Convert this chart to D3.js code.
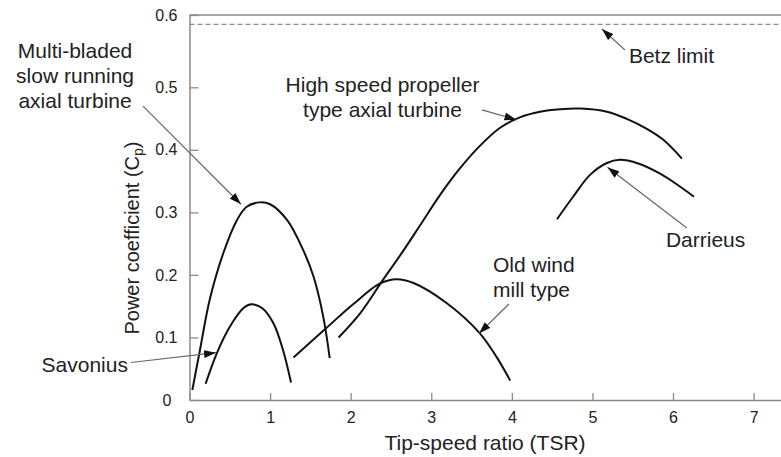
<!DOCTYPE html>
<html>
<head>
<meta charset="utf-8">
<script src="https://cdn.jsdelivr.net/npm/d3@7"></script>
<style>
  body { margin: 0; background: #fff; }
  svg { display: block; font-family: "Liberation Sans", Arial, sans-serif; }
</style>
</head>
<body>
<script>
// values: [TSR, Cp]
const savonius = [[0.20,0.026],[0.34,0.075],[0.50,0.117],[0.67,0.147],[0.77,0.153],[0.90,0.147],[1.04,0.123],[1.16,0.080],[1.26,0.028]];
const multiBladed = [[0.035,0.016],[0.13,0.080],[0.25,0.160],[0.42,0.235],[0.59,0.288],[0.71,0.309],[0.875,0.316],[1.0,0.313],[1.21,0.288],[1.41,0.240],[1.54,0.197],[1.66,0.133],[1.74,0.067]];
const oldWindMill = [[1.29,0.068],[1.68,0.113],[2.03,0.153],[2.36,0.186],[2.57,0.193],[2.78,0.187],[3.19,0.155],[3.60,0.107],[3.81,0.069],[3.98,0.031]];
const propeller = [[1.85,0.100],[2.12,0.139],[2.39,0.190],[2.65,0.238],[2.86,0.279],[3.11,0.328],[3.36,0.371],[3.60,0.406],[3.85,0.435],[4.10,0.452],[4.35,0.461],[4.60,0.465],[4.85,0.466],[5.18,0.461],[5.42,0.450],[5.67,0.434],[5.88,0.416],[6.11,0.386]];
const darrieus = [[4.56,0.289],[4.76,0.325],[4.97,0.360],[5.18,0.379],[5.34,0.384],[5.55,0.379],[5.84,0.362],[6.09,0.341],[6.26,0.325]];
const betzLimit = 0.587;

const xTicks = [0, 1, 2, 3, 4, 5, 6, 7];
const yTicks = [0, 0.1, 0.2, 0.3, 0.4, 0.5, 0.6];

// annotation labels: text lines, text anchor point, arrow tail and tip (data units)
const labels = [
  { lines: ["Multi-bladed", "slow running", "axial turbine"], at: [-1.42, 0.541], anchor: "middle", from: [-0.577, 0.470], to: [0.639, 0.313] },
  { lines: ["High speed propeller", "type axial turbine"], at: [2.395, 0.492], anchor: "middle", from: [3.629, 0.464], to: [4.057, 0.448] },
  { lines: ["Betz limit"], at: [5.453, 0.534], anchor: "start", from: [5.403, 0.5516], to: [5.118, 0.5806] },
  { lines: ["Darrieus"], at: [5.912, 0.244], anchor: "start", from: [6.172, 0.275], to: [5.186, 0.372] },
  { lines: ["Old wind", "mill type"], at: [3.766, 0.204], anchor: "start", from: [3.964, 0.1535], to: [3.592, 0.1063] },
  { lines: ["Savonius"], at: [-0.764, 0.044], anchor: "end", from: [-0.726, 0.060], to: [0.329, 0.0756] }
];

var width = 781, height = 457;

var x = d3.scaleLinear().domain([0, 7.34]).range([189.5, 781]);
var y = d3.scaleLinear().domain([0, 0.5, 0.6]).range([400, 87.3, 15]);

var svg = d3.select("body").append("svg")
  .attr("width", width)
  .attr("height", height);

svg.append("defs").append("marker")
  .attr("id", "arrow")
  .attr("markerUnits", "userSpaceOnUse")
  .attr("viewBox", "0 0 12 8")
  .attr("refX", 12).attr("refY", 4)
  .attr("markerWidth", 12).attr("markerHeight", 8)
  .attr("orient", "auto")
  .append("path")
  .attr("d", "M0,0L12,4L0,8Z")
  .attr("fill", "#111");

// top frame line
svg.append("line")
  .attr("x1", x(0)).attr("x2", x.range()[1])
  .attr("y1", y(0.6)).attr("y2", y(0.6))
  .attr("stroke", "#8a8a8a").attr("stroke-width", 1.5);

// Betz limit
svg.append("line")
  .attr("x1", x(0)).attr("x2", x.range()[1])
  .attr("y1", y(betzLimit)).attr("y2", y(betzLimit))
  .attr("stroke", "#8a8a8a").attr("stroke-width", 1.2)
  .attr("stroke-dasharray", "5,3");

var xAxis = svg.append("g")
  .attr("transform", "translate(0," + y(0) + ")")
  .call(d3.axisBottom(x).tickValues(xTicks).tickFormat(d3.format("d"))
    .tickSize(-7).tickSizeOuter(0).tickPadding(12));

var yAxis = svg.append("g")
  .attr("transform", "translate(" + x(0) + ",0)")
  .call(d3.axisLeft(y).tickValues(yTicks).tickFormat(d => d === 0 ? "0" : d3.format(".1f")(d))
    .tickSize(-9).tickSizeOuter(0).tickPadding(12));

[xAxis, yAxis].forEach(function(g) {
  g.select(".domain").attr("stroke", "#8a8a8a").attr("stroke-width", 1.5);
  g.selectAll(".tick line").attr("stroke", "#8a8a8a").attr("stroke-width", 1.3);
  g.selectAll(".tick text").attr("font-size", 16).attr("fill", "#222")
    .attr("font-family", "Liberation Sans, Arial, sans-serif");
});
yAxis.selectAll(".tick text").filter(d => d === 0).attr("dx", -6);

// axis titles
svg.append("text")
  .attr("x", 485).attr("y", 450)
  .attr("text-anchor", "middle")
  .attr("font-size", 21).attr("fill", "#222")
  .text("Tip-speed ratio (TSR)");

var yTitle = svg.append("text")
  .attr("transform", "translate(139,238) rotate(-90)")
  .attr("text-anchor", "middle")
  .attr("font-size", 20).attr("fill", "#222");
yTitle.append("tspan").text("Power coefficient (C");
yTitle.append("tspan").attr("font-size", 14).attr("dy", 4).text("p");
yTitle.append("tspan").attr("dy", -4).text(")");

// curves
var line = d3.line()
  .x(d => x(d[0]))
  .y(d => y(d[1]))
  .curve(d3.curveCatmullRom.alpha(0.5));

svg.append("g")
  .selectAll("path")
  .data([savonius, multiBladed, oldWindMill, propeller, darrieus])
  .join("path")
  .attr("d", line)
  .attr("fill", "none")
  .attr("stroke", "#111")
  .attr("stroke-width", 2);

// annotations
var ann = svg.append("g").selectAll("g").data(labels).join("g");

ann.append("line")
  .attr("x1", d => x(d.from[0])).attr("y1", d => y(d.from[1]))
  .attr("x2", d => x(d.to[0])).attr("y2", d => y(d.to[1]))
  .attr("stroke", "#666").attr("stroke-width", 1.2)
  .attr("marker-end", "url(#arrow)");

ann.append("text")
  .attr("text-anchor", d => d.anchor)
  .attr("font-size", 21).attr("fill", "#222")
  .each(function(d) {
    var t = d3.select(this);
    d.lines.forEach(function(s, i) {
      t.append("tspan")
        .attr("x", x(d.at[0]))
        .attr("y", y(d.at[1]) + i * 25)
        .text(s);
    });
  });
</script>
</body>
</html>
